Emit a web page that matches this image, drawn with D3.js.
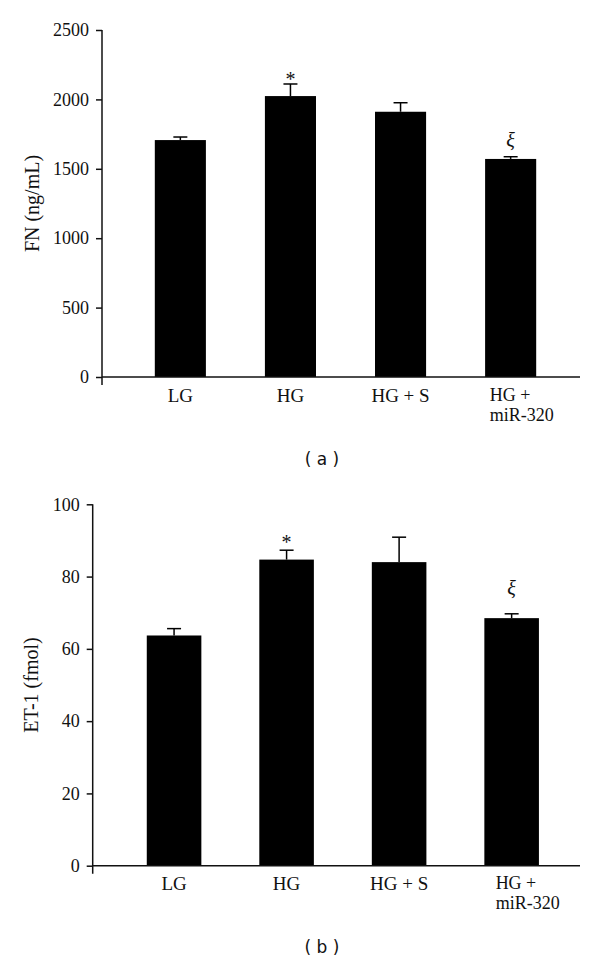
<!DOCTYPE html>
<html>
<head>
<meta charset="utf-8">
<script src="https://cdn.jsdelivr.net/npm/d3@7"></script>
<style>
    body { margin: 0; background: #fff; }
    svg { display: block; }
</style>
</head>
<body>
<div id="chart"></div>
<script>

// groups on the x axis (second line after "|")
var categories = ["LG", "HG", "HG + S", "HG +|miR-320"];

// panel (a) FN (ng/mL)
var fnValues = [1707, 2024, 1911, 1571];
var fnErrors = [22, 87, 65, 16];
var fnTicks = [0, 500, 1000, 1500, 2000, 2500];

// panel (b) ET-1 (fmol)
var etValues = [63.7, 84.7, 84.0, 68.5];
var etErrors = [1.9, 2.6, 6.9, 1.2];
var etTicks = [0, 20, 40, 60, 80, 100];

// significance marks above the bars
var marks = ["", "*", "", "\u03BE"];

var serif = "'Liberation Serif', 'DejaVu Serif', serif";

var svg = d3.select("#chart").append("svg")
    .attr("width", 600)
    .attr("height", 963);

//draw one bar panel
function drawPanel(cfg) {

    var x = d3.scaleBand()
        .domain(categories)
        .range(cfg.xRange)
        .paddingInner(cfg.padInner)
        .paddingOuter(cfg.padInner / 2);

    var y = d3.scaleLinear()
        .domain([0, d3.max(cfg.ticks)])
        .range(cfg.yRange);

    var g = svg.append("g");

    //bars
    g.selectAll("rect.bar")
        .data(cfg.values)
        .enter()
        .append("rect")
        .attr("class", "bar")
        .attr("x", function(d, i) { return x(categories[i]); })
        .attr("y", function(d) { return y(d); })
        .attr("width", x.bandwidth())
        .attr("height", function(d) { return y(0) - y(d); })
        .style("fill", "#000");

    //error bars: stem + cap
    g.selectAll("line.err")
        .data(cfg.values)
        .enter()
        .append("line")
        .attr("class", "err")
        .attr("x1", function(d, i) { return x(categories[i]) + x.bandwidth() / 2; })
        .attr("x2", function(d, i) { return x(categories[i]) + x.bandwidth() / 2; })
        .attr("y1", function(d) { return y(d); })
        .attr("y2", function(d, i) { return y(d + cfg.errors[i]); })
        .style("stroke", "#000")
        .style("stroke-width", 1.5);

    g.selectAll("line.cap")
        .data(cfg.values)
        .enter()
        .append("line")
        .attr("class", "cap")
        .attr("x1", function(d, i) { return x(categories[i]) + x.bandwidth() / 2 - 7; })
        .attr("x2", function(d, i) { return x(categories[i]) + x.bandwidth() / 2 + 7; })
        .attr("y1", function(d, i) { return y(d + cfg.errors[i]); })
        .attr("y2", function(d, i) { return y(d + cfg.errors[i]); })
        .style("stroke", "#000")
        .style("stroke-width", 1.5);

    //significance marks
    g.selectAll("text.mark")
        .data(cfg.values)
        .enter()
        .append("text")
        .attr("class", "mark")
        .attr("text-anchor", "middle")
        .attr("x", function(d, i) { return x(categories[i]) + x.bandwidth() / 2; })
        .attr("y", function(d, i) {
            var top = y(d + cfg.errors[i]);
            return marks[i] == "*" ? top + cfg.starGap : top - cfg.xiGap;
        })
        .style("font-family", serif)
        .style("font-size", "20px")
        .style("font-style", function(d, i) { return marks[i] == "*" ? "normal" : "italic"; })
        .style("fill", "#111")
        .text(function(d, i) { return marks[i]; });

    //y axis
    var yAxis = d3.axisLeft(y)
        .tickValues(cfg.ticks)
        .tickFormat(d3.format("d"))
        .tickSize(6)
        .tickPadding(7)
        .tickSizeOuter(0);

    var yG = g.append("g")
        .attr("class", "axis y-axis")
        .attr("transform", "translate(" + cfg.xRange0 + ",0)")
        .call(yAxis);

    yG.selectAll(".tick line")
        .style("stroke", "#111")
        .style("stroke-width", 1.5);

    yG.selectAll(".tick text")
        .style("font-family", serif)
        .style("font-size", "18px")
        .style("fill", "#111");

    //axis line runs a bit below zero
    yG.select(".domain").remove();
    yG.append("line")
        .attr("x1", 0).attr("x2", 0)
        .attr("y1", y(d3.max(cfg.ticks)))
        .attr("y2", y(0) + 8)
        .style("stroke", "#111")
        .style("stroke-width", 1.5);

    //x axis line
    g.append("line")
        .attr("x1", cfg.xRange0)
        .attr("x2", 580)
        .attr("y1", y(0))
        .attr("y2", y(0))
        .style("stroke", "#111")
        .style("stroke-width", 1.5);

    //category labels
    var labels = g.selectAll("text.cat")
        .data(categories)
        .enter()
        .append("text")
        .attr("class", "cat")
        .attr("y", y(0) + cfg.labelDy)
        .style("font-family", serif)
        .style("font-size", "19px")
        .style("fill", "#111");

    labels.each(function(d) {
        var parts = d.split("|");
        var cx = x(d) + x.bandwidth() / 2;
        var t = d3.select(this);
        if (parts.length == 1) {
            t.attr("text-anchor", "middle").attr("x", cx).text(d);
        } else {
            t.attr("text-anchor", "start")
                .attr("x", cx - cfg.wrapShift)
                .attr("y", y(0) + cfg.labelDy - 1)
                .style("font-size", "18px")
                .text(parts[0]);
            //second line as its own text
            g.append("text")
                .attr("text-anchor", "start")
                .attr("x", cx - cfg.wrapShift)
                .attr("y", y(0) + cfg.labelDy + 19)
                .style("font-family", serif)
                .style("font-size", "18px")
                .style("fill", "#111")
                .text(parts[1]);
        }
    });

    //y axis title
    g.append("text")
        .attr("text-anchor", "middle")
        .attr("transform", "translate(" + cfg.titleX + "," + (cfg.yRange[0] + cfg.yRange[1]) / 2 + ") rotate(-90)")
        .style("font-family", serif)
        .style("font-size", "20px")
        .style("fill", "#111")
        .text(cfg.title);

    //panel label
    svg.append("text")
        .attr("text-anchor", "middle")
        .attr("x", 322)
        .attr("y", cfg.panelY)
        .style("font-family", "'DejaVu Sans', sans-serif")
        .style("font-size", "17px")
        .style("fill", "#111")
        .text(cfg.panel);
}

drawPanel({
    values: fnValues, errors: fnErrors, ticks: fnTicks,
    title: "FN (ng/mL)", panel: "( a )",
    xRange0: 102, xRange: [125.3, 565.7], padInner: 0.536,
    yRange: [377, 30],
    labelDy: 25, wrapShift: 21, titleX: 39,
    starGap: 2, xiGap: 10,
    panelY: 465
});

drawPanel({
    values: etValues, errors: etErrors, ticks: etTicks,
    title: "ET-1 (fmol)", panel: "( b )",
    xRange0: 92.7, xRange: [117.8, 567.9], padInner: 0.515,
    yRange: [865.7, 504.3],
    labelDy: 24, wrapShift: 16, titleX: 38,
    starGap: -1, xiGap: 19,
    panelY: 953
});

</script>
</body>
</html>
